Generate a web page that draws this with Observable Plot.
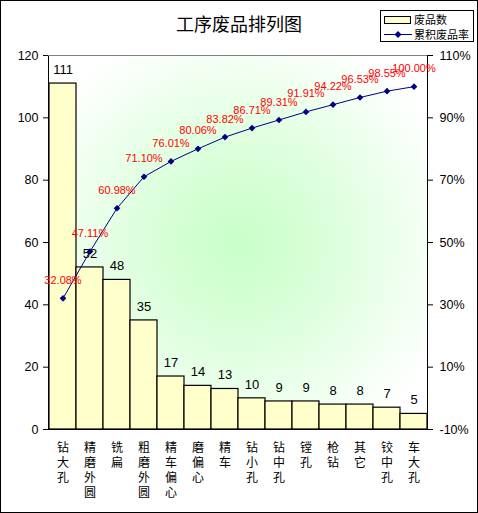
<!DOCTYPE html>
<html>
<head>
<meta charset="utf-8">
<script src="https://cdn.jsdelivr.net/npm/d3@7"></script>
<script src="https://cdn.jsdelivr.net/npm/@observablehq/plot@0.6"></script>
<style>
  body { margin: 0; background: white; }
  #wrap { position: relative; width: 478px; height: 513px; overflow: hidden; }
  #border { position: absolute; left: 0; top: 0; width: 476px; height: 511px; border: 1px solid black; pointer-events: none; }
  #title { position: absolute; left: 0; top: 14px; width: 478px; text-align: center;
    font: 18px/18px "Noto Sans CJK SC", sans-serif; color: black; }
  #legend { position: absolute; left: 380px; top: 10px; width: 92px; height: 30px;
    border: 1px solid black; background: white; font: 11px/14px "Noto Sans CJK SC", sans-serif; }
  .row { position: absolute; left: 0; height: 14px; width: 92px; }
  .sw { position: absolute; left: 3px; top: 4px; width: 25px; height: 6px; background: #FFFFCC; border: 1px solid black; }
  .lab { position: absolute; left: 33px; top: 0; white-space: nowrap; }
</style>
</head>
<body>
<div id="wrap">
  <div id="chart"></div>
  <div id="title">工序废品排列图</div>
  <div id="legend">
    <div class="row" style="top:1px"><span class="sw"></span><span class="lab">废品数</span></div>
    <div class="row" style="top:16px">
      <svg width="30" height="14" style="position:absolute;left:2px;top:0">
        <line x1="1" x2="29" y1="7.5" y2="7.5" stroke="#000080" stroke-width="1"/>
        <path d="M15,4 L18.5,7.5 L15,11 L11.5,7.5 Z" fill="#000080"/>
      </svg>
      <span class="lab">累积废品率</span>
    </div>
  </div>
  <div id="border"></div>
</div>
<script>
const categories = ["钻大孔","精磨外圆","铣扁","粗磨外圆","精车偏心","磨偏心","精车","钻小孔","钻中孔","镗孔","枪钻","其它","铰中孔","车大孔"];
const counts = [111, 52, 48, 35, 17, 14, 13, 10, 9, 9, 8, 8, 7, 5];
const cumulativePct = [32.08, 47.11, 60.98, 71.10, 76.01, 80.06, 83.82, 86.71, 89.31, 91.91, 94.22, 96.53, 98.55, 100.00];
const leftTicks = [0, 20, 40, 60, 80, 100, 120];
const rightTickLabels = ["-10%", "10%", "30%", "50%", "70%", "90%", "110%"];
const rightAxisOffset = 10; // right axis: -10% sits at left value 0

const bars = categories.map((c, i) => ({cat: c, value: counts[i]}));
const pts = categories.map((c, i) => ({cat: c, pct: cumulativePct[i]}));

const fontFam = '"Liberation Sans", Arial, "Noto Sans CJK SC", sans-serif';

const chart = Plot.plot({
  width: 478,
  height: 513,
  marginLeft: 48,
  marginRight: 51,
  marginTop: 55,
  marginBottom: 84,
  style: {background: "transparent", fontFamily: fontFam, fontSize: "12px", color: "black"},
  x: {type: "band", domain: categories, padding: 0, axis: null},
  y: {domain: [0, 120], axis: null},
  marks: [
    Plot.frame({fill: "url(#bggrad)", stroke: "black"}),
    Plot.ruleY([120], {stroke: "#808080"}),
    Plot.barY(bars, {x: "cat", y: "value", fill: "#FFFFCC", stroke: "black", strokeWidth: 1.2}),
    Plot.axisY({ticks: leftTicks, anchor: "left", label: null, tickSize: 5, tickPadding: 5, fontSize: 12.5, tickFormat: d => String(d)}),
    Plot.axisY({ticks: leftTicks, anchor: "right", label: null, tickSize: 5, tickPadding: 7, fontSize: 12.5,
      tickFormat: d => rightTickLabels[leftTicks.indexOf(d)]}),
    Plot.text(categories, {x: d => d, frameAnchor: "bottom", dy: 12, lineAnchor: "top",
      text: d => d.split("").join("\n"), lineHeight: 1.25, fontSize: 12,
      fontFamily: '"Noto Sans CJK SC", sans-serif'}),
    Plot.line(pts, {x: "cat", y: d => d.pct + rightAxisOffset, stroke: "#000080", strokeWidth: 1}),
    Plot.dot(pts, {x: "cat", y: d => d.pct + rightAxisOffset, symbol: "diamond2", r: 3, fill: "#000080", stroke: "none"}),
    Plot.text(pts, {x: "cat", y: d => d.pct + rightAxisOffset, text: d => d.pct.toFixed(2) + "%",
      fill: "#FF0000", dy: -18, fontSize: 11}),
    Plot.text(bars, {x: "cat", y: "value", text: d => String(d.value), dy: -14, fontSize: 13, fill: "black"})
  ]
});

const ns = "http://www.w3.org/2000/svg";
const defs = document.createElementNS(ns, "defs");
defs.innerHTML = '<radialGradient id="bggrad" cx="0.5" cy="0.5" r="0.6">' +
  '<stop offset="0" stop-color="#c8ffc8"/><stop offset="0.35" stop-color="#d8ffd8"/>' +
  '<stop offset="1" stop-color="#ffffff"/></radialGradient>';
chart.insertBefore(defs, chart.firstChild);
document.getElementById("chart").appendChild(chart);
</script>
</body>
</html>
